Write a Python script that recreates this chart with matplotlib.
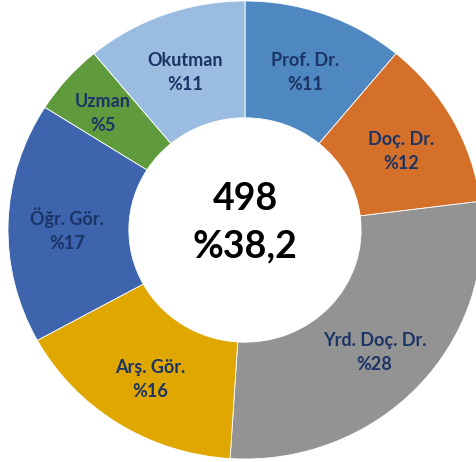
import matplotlib
matplotlib.use("Agg")
import matplotlib.pyplot as plt
import numpy as np

categories = ["Prof. Dr.", "Doç. Dr.", "Yrd. Doç. Dr.", "Arş. Gör.", "Öğr. Gör.", "Uzman", "Okutman"]
shares = [11, 12, 28, 16, 17, 5, 11]
colors = ["#4F88C0", "#D4702A", "#939393", "#E0A700", "#3D64AD", "#5F9A3C", "#9ABCE1"]
center_count = "498"
center_pct = "%38,2"

plt.rcParams['font.family'] = ['Lato', 'DejaVu Sans']

fig = plt.figure(figsize=(4.77, 4.62), dpi=100)
ax = fig.add_axes([0, 0, 1, 1])

wedges, _ = ax.pie(shares, colors=colors, startangle=90, counterclock=False,
                   radius=1, wedgeprops=dict(width=0.51, edgecolor='white', linewidth=0.6))

# labels sit in the middle of the ring
label_r = 0.75
for w, name, v in zip(wedges, categories, shares):
    ang = np.deg2rad((w.theta1 + w.theta2) / 2)
    r = label_r + (0.05 if v < 8 else 0)
    ax.text(r * np.cos(ang), r * np.sin(ang) - 0.02, f"{name}\n%{v}",
            ha='center', va='center', fontsize=13, fontweight='bold',
            color='#1B3466', linespacing=1.5)

ax.text(0, 0.087, center_count, ha='center', va='baseline', fontsize=27, fontweight='bold', color='black')
ax.text(0, -0.118, center_pct, ha='center', va='baseline', fontsize=27, fontweight='bold', color='black')

ax.set_aspect('auto')
ax.set_xlim(-245 / 237, 232 / 237)
ax.set_ylim(-232 / 229, 230 / 229)
ax.axis('off')

fig.savefig("out.png", dpi=100)
